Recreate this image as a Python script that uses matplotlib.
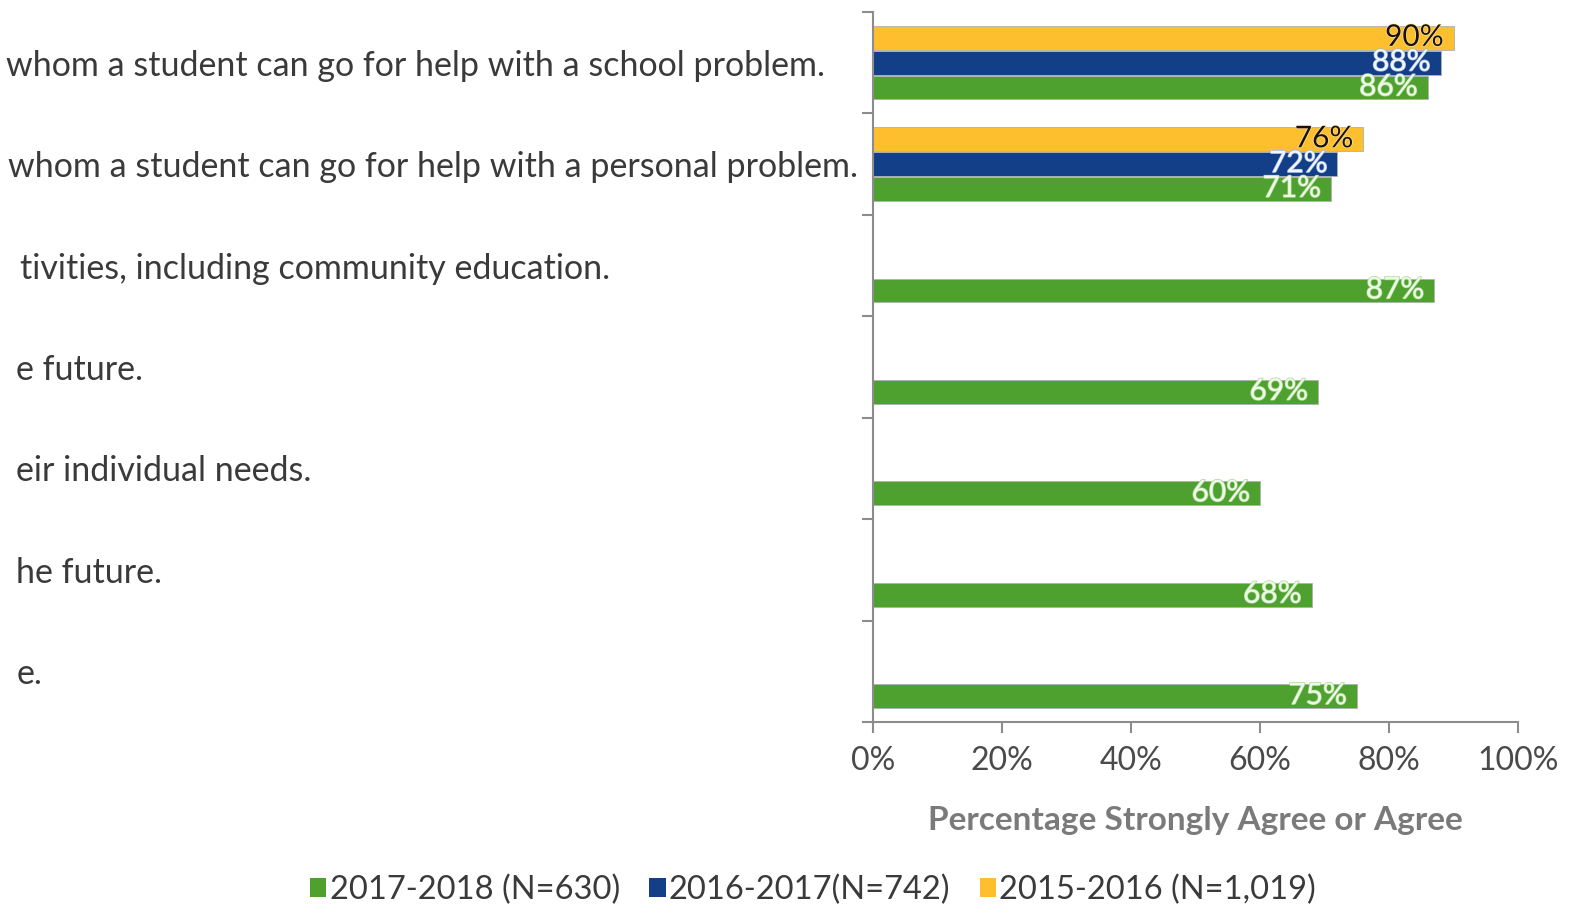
import numpy as np
import matplotlib
matplotlib.use('Agg')
import matplotlib.pyplot as plt
from matplotlib.patches import Patch
import matplotlib.patheffects as pe

plt.rcParams['font.family'] = ['Lato', 'DejaVu Sans']

# categories, top to bottom (cut off at the left in the original)
categories = [
    "whom a student can go for help with a school problem.",
    "whom a student can go for help with a personal problem.",
    "tivities, including community education.",
    "e future.",
    "eir individual needs.",
    "he future.",
    "e.",
]
# where each label ends on the left side (pixels)
label_end_px = [825, 858, 610, 143, 311, 162, 43]

v_2017_2018 = [86, 71, 87, 69, 60, 68, 75]
v_2016_2017 = [88, 72, np.nan, np.nan, np.nan, np.nan, np.nan]
v_2015_2016 = [90, 76, np.nan, np.nan, np.nan, np.nan, np.nan]

series_names = ["2017-2018 (N=630)", "2016-2017(N=742)", "2015-2016 (N=1,019)"]
col_green = "#4EA12F"
col_blue = "#123F88"
col_yellow = "#FDBF2D"

W, H = 1583, 917
fig = plt.figure(figsize=(W / 100, H / 100), dpi=100)
ax = fig.add_axes([873 / W, 1 - 722 / H, (1518 - 873) / W, (722 - 12) / H])

y = np.arange(len(categories))
off = 0.245
hgt = 0.235
ax.barh(y - off, v_2015_2016, height=hgt, color=col_yellow, edgecolor="#b0b0b0", linewidth=0.6)
ax.barh(y, v_2016_2017, height=hgt, color=col_blue, edgecolor="#b0b0b0", linewidth=0.6)
ax.barh(y + off, v_2017_2018, height=hgt, color=col_green, edgecolor="#b0b0b0", linewidth=0.6)

# value labels inside the end of each bar
for vals, dy, tc, gc in [(v_2015_2016, -off, "#1a1205", "#fde3a0"),
                         (v_2016_2017, 0, "#f2f6ff", "#9fb6dd"),
                         (v_2017_2018, off, "#f0faea", "#a8d890")]:
    for i, v in enumerate(vals):
        if np.isnan(v):
            continue
        ax.text(v - 1.5, i + dy - 0.01, "%d%%" % v, ha="right", va="center",
                fontsize=21.5, color=tc,
                path_effects=[pe.withStroke(linewidth=1.0, foreground=gc)])

ax.set_xlim(0, 100)
ax.set_ylim(len(categories) - 0.5, -0.5)
ax.set_xticks(np.arange(0, 101, 20))
ax.set_xticklabels(["%d%%" % t for t in range(0, 101, 20)])
ax.set_yticks(np.arange(-0.5, len(categories), 1.0))
ax.set_yticklabels([])
ax.tick_params(axis="x", labelsize=23, labelcolor="#4a4a4a", color="#8c8c8c",
               length=8, width=1.5, pad=9)
ax.tick_params(axis="y", color="#8c8c8c", length=8, width=1.5)
for s in ["top", "right"]:
    ax.spines[s].set_visible(False)
for s in ["left", "bottom"]:
    ax.spines[s].set_color("#8c8c8c")
    ax.spines[s].set_linewidth(1.5)

ax.set_xlabel("Percentage Strongly Agree or Agree", fontsize=24, fontweight="bold",
              color="#7a7a7a", labelpad=22)

# category labels, cut by the figure edge like in the original
for i, (txt, xe) in enumerate(zip(categories, label_end_px)):
    fig.text(xe / W, 1 - (15 + (i + 0.5) * 710 / 7) / H, txt, ha="right", va="center",
             fontsize=24.5, color="#3a3a3a")

handles = [Patch(facecolor=c, edgecolor="none") for c in [col_green, col_blue, col_yellow]]
fig.legend(handles, series_names, loc="center", bbox_to_anchor=(813 / W, 1 - 890 / H),
           ncol=3, frameon=False, fontsize=23.5, handlelength=0.5, handleheight=0.5,
           handletextpad=0.1, columnspacing=0.9, labelcolor="#3a3a3a")

fig.savefig("out.png", dpi=100)
